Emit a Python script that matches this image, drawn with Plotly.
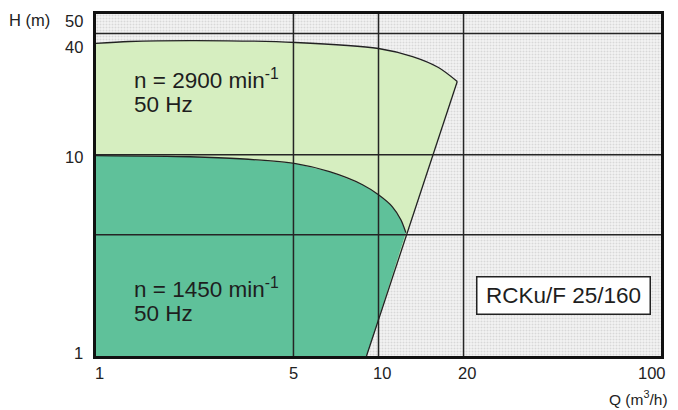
import numpy as np
import plotly.graph_objects as go

# ---- data (Q in m3/h, H in m) ----
q_2900 = [1.0, 1.31, 2.26, 5.09, 10.0, 13.2, 16.3, 19.0]
h_2900 = [35.7, 36.5, 36.9, 36.1, 33.7, 30.7, 27.1, 23.1]

q_1450 = [1.0, 2.15, 3.23, 5.09, 6.71, 8.78, 10.0, 11.2, 12.0, 12.5]
h_1450 = [9.9, 9.77, 9.55, 9.02, 8.23, 7.09, 6.32, 5.51, 4.75, 4.1]

# straight limit line: from the end of the 2900 curve down to H = 1
q_limit = [19.0, 9.07]
h_limit = [23.1, 1.0]

x_grid = [5, 10, 20]
y_grid = [4, 10, 40]

x_ticks = [1, 5, 10, 20, 100]
x_tick_text = ["1", "5", "10", "20", "100"]
y_ticks = [1, 10, 40, 50]
y_tick_text = ["1", "10", "40", "50"]

label_2900 = ["n = 2900 min<sup>-1</sup>", "50 Hz"]
label_1450 = ["n = 1450 min<sup>-1</sup>", "50 Hz"]
model_label = "RCKu/F 25/160"

x_range = [1, 100]
y_range = [1, 50]

FONT = "Liberation Sans, Arial, sans-serif"
LIGHT = "#d6eec0"
DARK = "#5fc19a"

fig = go.Figure()

# textured background of the plot area
fig.add_trace(go.Scatter(
    x=[x_range[0], x_range[1], x_range[1], x_range[0]],
    y=[y_range[0], y_range[0], y_range[1], y_range[1]],
    fill="toself", mode="lines", line=dict(width=0),
    fillcolor="#f2f2f2",
    fillpattern=dict(shape=".", fgcolor="#bdbdbd", bgcolor="#f3f3f3", size=3, solidity=0.35),
    hoverinfo="skip", showlegend=False))

# light green area (2900 rpm)
fig.add_trace(go.Scatter(
    x=q_2900 + [q_limit[1], q_2900[0]],
    y=h_2900 + [h_limit[1], y_range[0]],
    fill="toself", mode="lines", line=dict(width=0),
    fillcolor=LIGHT, hoverinfo="skip", showlegend=False))

# dark green area (1450 rpm): curve then limit line down to H=1
fig.add_trace(go.Scatter(
    x=q_1450 + [q_limit[1], q_1450[0]],
    y=h_1450 + [h_limit[1], y_range[0]],
    fill="toself", mode="lines", line=dict(width=0),
    fillcolor=DARK, hoverinfo="skip", showlegend=False))

# grid lines (drawn above the fills as in the reference)
for gx in x_grid:
    fig.add_trace(go.Scatter(x=[gx, gx], y=y_range, mode="lines",
                             line=dict(color="#252525", width=1.5),
                             hoverinfo="skip", showlegend=False))
for gy in y_grid:
    fig.add_trace(go.Scatter(x=x_range, y=[gy, gy], mode="lines",
                             line=dict(color="#252525", width=1.5),
                             hoverinfo="skip", showlegend=False))

# curves
fig.add_trace(go.Scatter(x=q_2900, y=h_2900, mode="lines",
                         line=dict(color="#222222", width=1.3, shape="spline", smoothing=0.8),
                         hoverinfo="skip", showlegend=False))
fig.add_trace(go.Scatter(x=q_1450, y=h_1450, mode="lines",
                         line=dict(color="#222222", width=1.3, shape="spline", smoothing=0.8),
                         hoverinfo="skip", showlegend=False))
fig.add_trace(go.Scatter(x=q_limit, y=h_limit, mode="lines",
                         line=dict(color="#222222", width=1.3),
                         hoverinfo="skip", showlegend=False))

annotations = []
# y tick labels
y_shift = {1: 3, 10: -2, 40: -13, 50: -7}
for v, t in zip(y_ticks, y_tick_text):
    annotations.append(dict(x=0, xref="paper", y=np.log10(v), yref="y", text=t,
                            xanchor="right", yanchor="middle", xshift=-11, yshift=y_shift[v],
                            showarrow=False, font=dict(size=16.5, color="#222", family=FONT)))
# x tick labels
x_shift = {1: 3, 5: 0, 10: 3, 20: 3, 100: -9}
for v, t in zip(x_ticks, x_tick_text):
    annotations.append(dict(x=np.log10(v), xref="x", y=0, yref="paper", text=t,
                            xanchor="center", yanchor="middle", xshift=x_shift[v], yshift=-17,
                            showarrow=False, font=dict(size=16.5, color="#222", family=FONT)))
# axis titles
annotations.append(dict(x=0, xref="paper", y=1, yref="paper", text="H (m)",
                        xanchor="left", yanchor="middle", xshift=-89, yshift=-6,
                        showarrow=False, font=dict(size=16.5, color="#222", family=FONT)))
annotations.append(dict(x=1, xref="paper", y=0, yref="paper", text="Q (m<sup>3</sup>/h)",
                        xanchor="right", yanchor="middle", xshift=9, yshift=-42,
                        showarrow=False, font=dict(size=15.5, color="#222", family=FONT)))
# speed labels
for lbl, ys in ((label_2900, (0.81, 0.735)), (label_1450, (0.198, 0.125))):
    for t, yy in zip(lbl, ys):
        annotations.append(dict(x=0.064, xref="paper", y=yy, yref="paper", text=t,
                                xanchor="left", yanchor="middle", showarrow=False,
                                font=dict(size=22.5, color="#1e1e1e", family=FONT)))
# model box
annotations.append(dict(x=0.828, xref="paper", y=0.178, yref="paper", text=model_label,
                        xanchor="center", yanchor="middle", showarrow=False,
                        width=170, height=34, borderpad=1,
                        bgcolor="white", bordercolor="#222", borderwidth=1.5,
                        font=dict(size=22.5, color="#1e1e1e", family=FONT)))

fig.update_layout(
    width=678, height=410,
    margin=dict(l=96, r=17, t=14, b=54),
    paper_bgcolor="white", plot_bgcolor="#f2f2f2",
    font=dict(family=FONT),
    annotations=annotations,
    showlegend=False,
)
fig.update_xaxes(type="log", range=[np.log10(x_range[0]), np.log10(x_range[1])],
                 showgrid=False, zeroline=False, showticklabels=False, ticks="",
                 showline=True, linecolor="#111", linewidth=2.5, mirror=True)
fig.update_yaxes(type="log", range=[np.log10(y_range[0]), np.log10(y_range[1])],
                 showgrid=False, zeroline=False, showticklabels=False, ticks="",
                 showline=True, linecolor="#111", linewidth=2.5, mirror=True)

fig.write_html("out.html", config={"displayModeBar": False},
               post_script="document.body.style.margin='0';document.body.style.overflow='hidden';")
